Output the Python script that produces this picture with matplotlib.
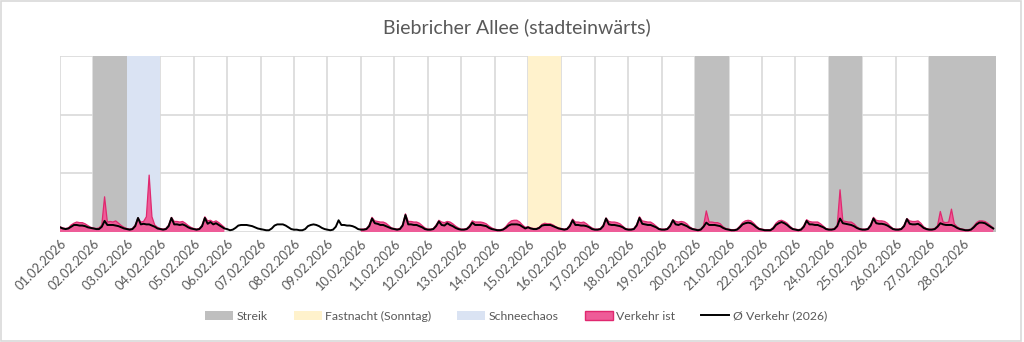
import numpy as np
import matplotlib
matplotlib.use("Agg")
import matplotlib.pyplot as plt
from matplotlib.patches import Patch, Rectangle
from matplotlib.lines import Line2D

plt.rcParams["font.family"] = ["Lato", "DejaVu Sans"]

title = "Biebricher Allee (stadteinwärts)"
day_labels = [f"{d:02d}.02.2026" for d in range(1, 29)]

# two-hourly values (00, 02, ..., 22 h) per day
avg_traffic = [
    [8, 6, 5, 6, 9, 12, 12, 11, 11, 10, 8, 7],      # 01
    [6, 5, 5, 9, 19, 12, 12, 12, 11, 10, 8, 6],     # 02
    [5, 4, 5, 10, 24, 13, 14, 13, 13, 11, 9, 6],    # 03
    [5, 4, 5, 10, 24, 13, 13, 12, 13, 11, 8, 6],    # 04
    [5, 4, 5, 10, 24, 14, 17, 13, 15, 12, 9, 6],    # 05
    [5, 3, 4, 7, 11, 12, 12, 12, 11, 10, 8, 6],     # 06
    [5, 4, 3, 3, 6, 11, 13, 13, 13, 11, 8, 5],      # 07
    [4, 4, 3, 3, 5, 10, 12, 13, 12, 10, 7, 5],      # 08
    [4, 3, 4, 9, 20, 12, 12, 11, 11, 10, 8, 5],     # 09
    [4, 4, 5, 10, 23, 15, 14, 12, 12, 10, 8, 6],    # 10
    [5, 4, 5, 11, 29, 13, 13, 12, 12, 10, 8, 5],    # 11
    [4, 4, 5, 10, 18, 12, 11, 15, 12, 10, 7, 5],    # 12
    [4, 4, 5, 9, 16, 12, 12, 12, 11, 10, 7, 5],     # 13
    [4, 3, 3, 4, 7, 11, 13, 13, 13, 12, 9, 6],      # 14
    [8, 6, 5, 5, 7, 11, 12, 12, 12, 10, 8, 6],      # 15
    [5, 4, 5, 10, 20, 12, 12, 11, 11, 10, 8, 5],    # 16
    [4, 4, 5, 10, 23, 13, 12, 12, 11, 10, 8, 5],    # 17
    [4, 4, 5, 11, 24, 14, 13, 12, 12, 10, 8, 5],    # 18
    [4, 4, 5, 10, 20, 13, 12, 14, 12, 10, 7, 5],    # 19
    [4, 3, 4, 9, 16, 12, 12, 12, 11, 10, 7, 5],     # 20
    [4, 3, 3, 4, 8, 13, 15, 16, 15, 12, 8, 5],      # 21
    [4, 3, 3, 3, 6, 12, 15, 17, 15, 12, 8, 5],      # 22
    [4, 3, 4, 9, 19, 13, 13, 12, 12, 10, 8, 5],     # 23
    [4, 4, 5, 10, 23, 15, 14, 13, 12, 10, 7, 5],    # 24
    [4, 4, 5, 11, 23, 15, 14, 14, 13, 11, 8, 5],    # 25
    [4, 4, 5, 10, 22, 14, 13, 13, 14, 11, 7, 5],    # 26
    [4, 4, 5, 9, 15, 13, 12, 12, 12, 10, 7, 5],     # 27
    [4, 3, 3, 4, 8, 13, 16, 16, 15, 12, 9, 6],      # 28
]

NA = [np.nan] * 12
actual_traffic = [
    [9, 7, 6, 7, 12, 15, 17, 16, 16, 14, 11, 8],    # 01
    [7, 6, 7, 12, 60, 17, 18, 17, 19, 15, 11, 8],   # 02
    [6, 5, 6, 12, 24, 17, 18, 26, 97, 26, 12, 8],   # 03
    [6, 5, 6, 12, 25, 18, 18, 17, 18, 15, 11, 8],   # 04
    [6, 5, 6, 12, 26, 19, 20, 17, 19, 16, 12, 8],   # 05
    NA, NA, NA, NA,                                  # 06 - 09
    [5, 5, 6, 12, 25, 19, 18, 17, 17, 15, 11, 7],   # 10
    [6, 5, 6, 13, 31, 18, 18, 17, 17, 15, 11, 7],   # 11
    [5, 5, 6, 12, 20, 17, 16, 18, 17, 14, 10, 7],   # 12
    [5, 5, 6, 11, 19, 17, 17, 17, 16, 14, 10, 7],   # 13
    [5, 4, 4, 5, 9, 15, 19, 20, 20, 17, 12, 8],     # 14
    [9, 7, 6, 6, 8, 13, 15, 14, 14, 12, 9, 7],      # 15
    [6, 5, 6, 12, 22, 17, 17, 16, 17, 14, 10, 7],   # 16
    [5, 5, 6, 12, 24, 18, 17, 17, 16, 14, 10, 6],   # 17
    [5, 5, 6, 13, 26, 19, 18, 17, 17, 14, 10, 6],   # 18
    [5, 5, 6, 12, 21, 18, 17, 18, 17, 14, 9, 6],    # 19
    [5, 4, 5, 11, 36, 17, 17, 16, 16, 14, 9, 6],    # 20
    [5, 4, 4, 5, 10, 16, 19, 20, 19, 15, 10, 6],    # 21
    [5, 4, 4, 4, 8, 15, 19, 20, 18, 15, 10, 6],     # 22
    [5, 4, 5, 11, 21, 18, 17, 17, 17, 14, 10, 6],   # 23
    [5, 5, 6, 12, 72, 19, 18, 17, 17, 14, 9, 6],    # 24
    [5, 5, 6, 13, 25, 20, 19, 19, 18, 15, 10, 6],   # 25
    [5, 5, 6, 12, 23, 19, 18, 18, 19, 15, 9, 6],    # 26
    [5, 5, 6, 11, 35, 17, 16, 17, 39, 14, 9, 6],    # 27
    [5, 4, 4, 5, 10, 16, 19, 19, 18, 15, 11, 7],    # 28
]

# highlighted periods: (first day, last day) in February
strike_days = [(2, 2), (20, 20), (24, 24), (27, 28)]
carnival_days = [(15, 15)]
snow_days = [(3, 3)]

C_STRIKE = "#BFBFBF"
C_CARNIVAL = "#FFF2CC"
C_SNOW = "#DAE3F3"
C_PINK_FILL = "#EE5C98"
C_PINK_EDGE = "#E0286F"
C_TEXT = "#595959"
C_GRID = "#D9D9D9"

avg = np.array(avg_traffic, dtype=float).ravel()
act = np.array(actual_traffic, dtype=float).ravel()
t = np.arange(avg.size) * 2.0 / 24.0  # time in days since 01.02. 00:00

fig = plt.figure(figsize=(10.24, 3.42), dpi=100)
ax = fig.add_axes([0.0586, 0.3216, 0.9141, 0.5147])

for spans, col in ((strike_days, C_STRIKE), (carnival_days, C_CARNIVAL), (snow_days, C_SNOW)):
    for a, b in spans:
        ax.axvspan(a - 1, b, color=col, lw=0, zorder=1)

ax.fill_between(t, 0, act, color=C_PINK_FILL, lw=0, zorder=2)
ax.plot(t, act, color=C_PINK_EDGE, lw=0.9, zorder=3)
ax.plot(t, avg, color="black", lw=1.4, zorder=4)

ax.set_xlim(0, 28)
ax.set_ylim(0, 300)
ax.set_yticks([0, 100, 200, 300])
ax.set_yticklabels([])
ax.set_xticks(np.arange(28))
ax.set_xticklabels(day_labels, rotation=45, ha="right", va="top",
                   rotation_mode="anchor", fontsize=9.3, color=C_TEXT)
ax.tick_params(axis="both", length=0, pad=4)
ax.grid(True, color=C_GRID, lw=1.2, zorder=0)
ax.set_axisbelow(True)
for s in ax.spines.values():
    s.set_visible(False)
ax.axvline(28, color=C_GRID, lw=1.2, zorder=0)

fig.text(0.505, 0.921, title, ha="center", va="center", fontsize=14, color=C_TEXT)

handles = [
    Patch(facecolor=C_STRIKE, edgecolor="none", label="Streik"),
    Patch(facecolor=C_CARNIVAL, edgecolor="none", label="Fastnacht (Sonntag)"),
    Patch(facecolor=C_SNOW, edgecolor="none", label="Schneechaos"),
    Patch(facecolor=C_PINK_FILL, edgecolor=C_PINK_EDGE, lw=1, label="Verkehr ist"),
    Line2D([], [], color="black", lw=1.4, label="Ø Verkehr (2026)"),
]
leg = fig.legend(handles=handles, loc="center", bbox_to_anchor=(0.504, 0.076), ncol=5,
                 frameon=False, fontsize=8.8, handlelength=2.3, handletextpad=0.3,
                 columnspacing=2.1)
for txt in leg.get_texts():
    txt.set_color(C_TEXT)

fig.add_artist(Rectangle((0.001, 0.003), 0.996, 0.994, transform=fig.transFigure,
                         fill=False, edgecolor=C_GRID, lw=1.2))

fig.savefig("out.png", dpi=100)
